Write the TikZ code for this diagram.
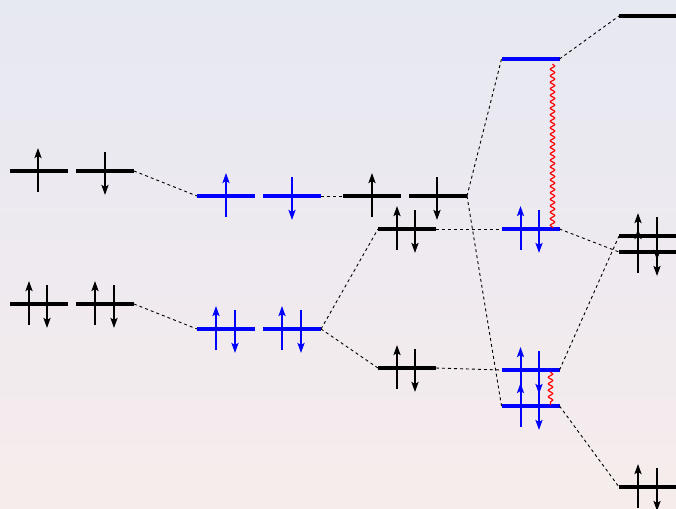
\documentclass[tikz,border=0pt]{standalone}
\usetikzlibrary{arrows.meta,decorations.pathmorphing}
\definecolor{bgtop}{RGB}{230,232,242}
\definecolor{bgbot}{RGB}{246,236,236}
\tikzset{
 lvl/.style={fill=black, minimum width=58pt, minimum height=3.6pt, inner sep=0pt, outer sep=0pt},
 blvl/.style={lvl, fill=blue},
 spin/.style={line width=2pt, -{Stealth[length=10pt,width=7pt,inset=2pt]}},
 conn/.style={dash pattern=on 3pt off 3pt, line width=0.9pt},
 wig/.style={red, line width=1.2pt, decorate, decoration={snake, amplitude=2.2pt, segment length=6.5pt}},
}
\newcommand\spinU[3]{\draw[spin,#3] ([shift={(#2,21)}]#1.center) -- ++(0,-44);}
\newcommand\spinD[3]{\draw[spin,#3] ([shift={(#2,-19)}]#1.center) -- ++(0,43);}
\begin{document}
\begin{tikzpicture}[x=1pt,y=-1pt]
\fill[top color=bgtop, bottom color=bgbot] (0,0) rectangle (676,508);
\useasboundingbox (0,0) rectangle (676,508);
% levels
\node[lvl] (A1) at (39,171) {};
\node[lvl] (A2) at (105,171) {};
\node[lvl] (A3) at (39,304) {};
\node[lvl] (A4) at (105,304) {};
\node[blvl] (B1) at (226,196) {};
\node[blvl] (B2) at (292,196) {};
\node[blvl] (B3) at (226,329) {};
\node[blvl] (B4) at (292,329) {};
\node[lvl] (C1) at (372,196) {};
\node[lvl] (C2) at (438,196) {};
\node[lvl] (C3) at (407,229) {};
\node[lvl] (C4) at (407,368) {};
\node[blvl] (D1) at (530.5,59) {};
\node[blvl] (D2) at (530.5,229) {};
\node[blvl] (D3) at (530.5,370) {};
\node[blvl] (D4) at (530.5,406) {};
\node[lvl] (E1) at (648,16) {};
\node[lvl] (E2) at (648,236) {};
\node[lvl] (E3) at (648,252) {};
\node[lvl] (E4) at (648,487) {};
% connectors
\draw[conn] (A2.east) -- (B1.west);
\draw[conn] (A4.east) -- (B3.west);
\draw[conn] (B2.east) -- (C1.west);
\draw[conn] (B4.east) -- (C3.west);
\draw[conn] (B4.east) -- (C4.west);
\draw[conn] (C3.east) -- (D2.west);
\draw[conn] (C4.east) -- (D3.west);
\draw[conn] (C2.east) -- (D1.west);
\draw[conn] (C2.east) -- (D4.west);
\draw[conn] (D1.east) -- (E1.west);
\draw[conn] (D2.east) -- (E3.west);
\draw[conn] (D3.east) -- (E2.west);
\draw[conn] (D4.east) -- (E4.west);
% wiggles
\coordinate (w1a) at ([shift={(22,5)}]D1.center);
\coordinate (w1b) at ([shift={(22,-1)}]D2.center);
\coordinate (w2a) at ([shift={(20,2)}]D3.center);
\coordinate (w2b) at ([shift={(20,-1)}]D4.center);
\draw[wig] (w1a) -- (w1b);
\draw[wig] (w2a) -- (w2b);
% spins
\spinU{A1}{-1}{black}
\spinD{A2}{0}{black}
\spinU{A3}{-10}{black}\spinD{A3}{8}{black}
\spinU{A4}{-10}{black}\spinD{A4}{9}{black}
\spinU{B1}{0}{blue}
\spinD{B2}{0}{blue}
\spinU{B3}{-10}{blue}\spinD{B3}{9}{blue}
\spinU{B4}{-10}{blue}\spinD{B4}{9}{blue}
\spinU{C1}{0}{black}
\spinD{C2}{-1}{black}
\spinU{C3}{-10}{black}\spinD{C3}{8}{black}
\spinU{C4}{-10}{black}\spinD{C4}{8}{black}
\spinU{D2}{-10}{blue}\spinD{D2}{8.5}{blue}
\spinU{D3}{-10}{blue}\spinD{D3}{8.5}{blue}
\spinU{D4}{-10}{blue}\spinD{D4}{8.5}{blue}
\spinU{E2}{-10}{black}\spinD{E2}{9}{black}
\spinU{E3}{-10}{black}\spinD{E3}{9}{black}
\spinU{E4}{-10}{black}\spinD{E4}{9}{black}
\end{tikzpicture}
\end{document}
